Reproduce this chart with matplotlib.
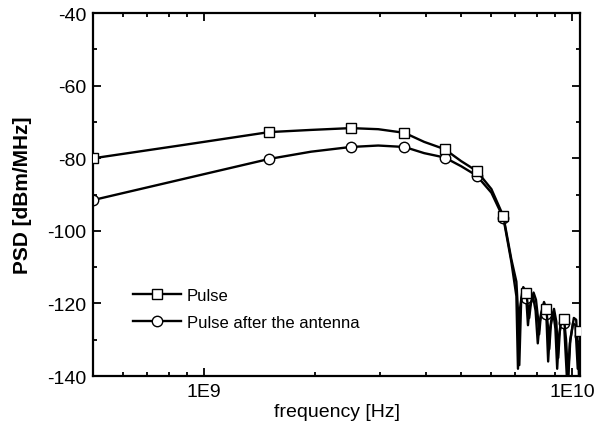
import matplotlib
matplotlib.use("Agg")
import matplotlib.pyplot as plt
from matplotlib.ticker import FixedLocator, FixedFormatter, MultipleLocator

plt.rcParams['font.family'] = ['Liberation Sans', 'DejaVu Sans']
plt.rcParams['axes.unicode_minus'] = False

# frequencies in GHz, PSD in dBm/MHz
pulse_f = [0.5, 0.87, 1.5, 1.95, 2.5, 2.97, 3.5, 3.96, 4.5, 4.99, 5.5, 6.03, 6.5,
           6.83, 7.05, 7.12, 7.18, 7.26, 7.36, 7.5, 7.58, 7.64, 7.72, 7.85, 7.97,
           8.07, 8.13, 8.22, 8.38, 8.5, 8.6, 8.66, 8.76, 8.92, 9.05, 9.16, 9.26,
           9.42, 9.5, 9.62, 9.75, 9.88, 10.1, 10.25, 10.38, 10.45, 10.5]
pulse_db = [-80.0, -76.4, -72.8, -72.2, -71.7, -72.0, -73.0, -75.5, -77.5, -80.8, -83.5, -88.5, -96.0,
            -107.8, -114.0, -122.0, -137.0, -120.0, -115.5, -117.0, -121.0, -124.0, -120.0, -117.0, -119.0,
            -124.0, -128.5, -123.0, -119.6, -121.5, -127.0, -132.6, -125.0, -121.5, -125.0, -135.0, -127.0,
            -123.3, -124.3, -130.0, -141.0, -130.0, -124.0, -124.5, -135.0, -142.0, -127.6]

ant_f = [0.5, 0.87, 1.5, 1.95, 2.5, 2.97, 3.5, 3.96, 4.5, 4.99, 5.5, 6.03, 6.5,
         6.83, 7.05, 7.12, 7.2, 7.32, 7.5, 7.58, 7.66, 7.82, 7.95, 8.06, 8.16,
         8.34, 8.5, 8.6, 8.7, 8.88, 9.0, 9.1, 9.2, 9.38, 9.5, 9.7, 9.85,
         10.05, 10.2, 10.35, 10.5]
ant_db = [-91.5, -85.8, -80.2, -78.2, -76.9, -76.5, -76.9, -78.6, -79.8, -82.2, -84.8, -89.5, -96.5,
          -108.5, -118.0, -138.0, -122.0, -116.5, -118.5, -126.0, -121.0, -118.0, -122.0, -131.0, -125.0,
          -120.5, -122.8, -136.0, -127.0, -122.5, -127.0, -138.0, -129.0, -124.5, -125.5, -143.0, -131.0,
          -125.5, -126.0, -138.0, -129.0]

marker_f = [0.5, 1.5, 2.5, 3.5, 4.5, 5.5, 6.5, 7.5, 8.5, 9.5, 10.5]

xticks = [1e9, 1e10]
xtick_labels = ["1E9", "1E10"]

fig = plt.figure(figsize=(5.97, 4.39), dpi=100)
ax = fig.add_axes([0.1566, 0.1412, 0.815, 0.8268])

pulse_hz = [f * 1e9 for f in pulse_f]
ant_hz = [f * 1e9 for f in ant_f]
pulse_marks = [i for i, f in enumerate(pulse_f) if f in marker_f]
ant_marks = [i for i, f in enumerate(ant_f) if f in marker_f]

mstyle = dict(color='black', lw=1.7, markersize=7.5, markerfacecolor='white',
              markeredgecolor='black', markeredgewidth=1.0)
l2, = ax.plot(ant_hz, ant_db, marker='o', markevery=ant_marks, zorder=2, **mstyle)
l1, = ax.plot(pulse_hz, pulse_db, marker='s', markevery=pulse_marks, zorder=3, **mstyle)

ax.set_xscale('log')
ax.set_xlim(5e8, 1.05e10)
ax.set_ylim(-140, -40)

ax.xaxis.set_major_locator(FixedLocator(xticks))
ax.xaxis.set_major_formatter(FixedFormatter(xtick_labels))
ax.yaxis.set_major_locator(MultipleLocator(20))
ax.yaxis.set_minor_locator(MultipleLocator(10))

ax.tick_params(which='both', direction='in', top=True, right=True, width=1.3, labelsize=14)
ax.tick_params(which='major', length=6, pad=5)
ax.tick_params(which='minor', length=3)
for s in ax.spines.values():
    s.set_linewidth(1.6)

ax.set_xlabel("frequency [Hz]", fontsize=14, labelpad=2)
ax.set_ylabel("PSD [dBm/MHz]", fontsize=15, fontweight='bold', labelpad=11)

ax.legend([l1, l2], ["Pulse", "Pulse after the antenna"], loc='center left',
          bbox_to_anchor=(0.081, 0.185), frameon=False, fontsize=12,
          handlelength=2.9, handletextpad=0.35, labelspacing=0.75,
          borderpad=0, borderaxespad=0)

fig.savefig("out.png", dpi=100)
